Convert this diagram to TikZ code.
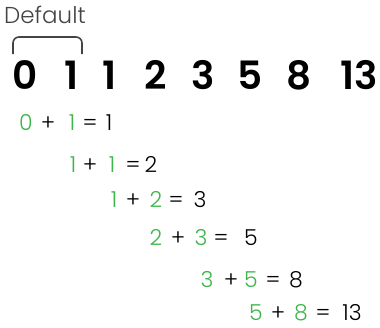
\documentclass[tikz,border=0pt]{standalone}
\usepackage{fontspec}
\setmainfont{Poppins}
\newfontfamily\lightfont{Poppins Light}
\newfontfamily\semifont{Poppins SemiBold}
\definecolor{fibgreen}{HTML}{3DB54A}
\definecolor{bracketgray}{HTML}{444444}
\tikzset{
  big/.style={anchor=base, inner sep=0pt, font=\fontsize{39}{39}\selectfont\semifont},
  eq/.style={anchor=base, inner sep=0pt, font=\fontsize{22}{22}\selectfont\lightfont, text=black},
  geq/.style={eq, text=fibgreen},
  lbl/.style={anchor=base west, inner sep=0pt, font=\fontsize{23}{23}\selectfont\lightfont, text=bracketgray},
}
\begin{document}
\begin{tikzpicture}[x=1pt,y=-1pt]
\useasboundingbox (0,0) rectangle (380,327);
\node[lbl] (default) at (4,23) {Default};
\coordinate (bl) at (13,54);
\coordinate (br) at (82,54);
\draw[bracketgray, line width=1.6pt, rounded corners=6pt] (bl) |- (47,37) -| (br);
% top row
\node[big] (n0) at (25,89) {0};
\node[big] (n1) at (72,89) {1};
\node[big] (n2) at (110,89) {1};
\node[big] (n3) at (156,89) {2};
\node[big] (n4) at (203,89) {3};
\node[big] (n5) at (250,89) {5};
\node[big] (n6) at (299,89) {8};
\node[big] (n7) at (359,89) {13};
% row 1
\node[geq] (a1) at (26,130) {0};
\node[eq]  (a2) at (48,130) {+};
\node[geq] (a3) at (72,130) {1};
\node[eq]  (a4) at (90,130) {=};
\node[eq]  (a5) at (109,130) {1};
% row 2
\node[geq] (b1) at (73,172) {1};
\node[eq]  (b2) at (90,172) {+};
\node[geq] (b3) at (112,172) {1};
\node[eq]  (b4) at (133,172) {=};
\node[eq]  (b5) at (151,172) {2};
% row 3
\node[geq] (c1) at (114,207) {1};
\node[eq]  (c2) at (133,207) {+};
\node[geq] (c3) at (156,207) {2};
\node[eq]  (c4) at (176,207) {=};
\node[eq]  (c5) at (200,207) {3};
% row 4
\node[geq] (d1) at (156,245) {2};
\node[eq]  (d2) at (178,245) {+};
\node[geq] (d3) at (201,245) {3};
\node[eq]  (d4) at (221,245) {=};
\node[eq]  (d5) at (251,245) {5};
% row 5
\node[geq] (e1) at (207,287) {3};
\node[eq]  (e2) at (231,287) {+};
\node[geq] (e3) at (251,287) {5};
\node[eq]  (e4) at (273,287) {=};
\node[eq]  (e5) at (296,287) {8};
% row 6
\node[geq] (f1) at (256,320) {5};
\node[eq]  (f2) at (278,320) {+};
\node[geq] (f3) at (301,320) {8};
\node[eq]  (f4) at (323,320) {=};
\node[eq]  (f5) at (352,320) {13};
\end{tikzpicture}
\end{document}
